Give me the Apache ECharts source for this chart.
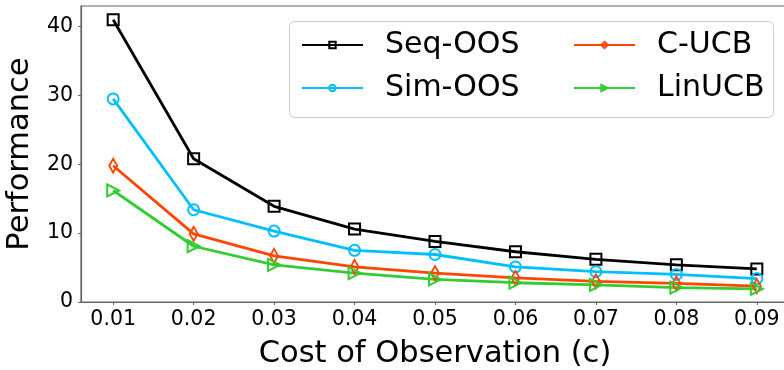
<!DOCTYPE html>
<html><head><meta charset="utf-8">
<script src="https://cdn.jsdelivr.net/npm/echarts@6/dist/echarts.min.js"></script>
<style>html,body{margin:0;padding:0;background:#fff}#c{width:784px;height:370px}</style>
</head><body><div id="c"></div>
<script>
const costs = [0.01, 0.02, 0.03, 0.04, 0.05, 0.06, 0.07, 0.08, 0.09];
const seqOOS = [41.0, 20.8, 13.9, 10.6, 8.8, 7.3, 6.2, 5.4, 4.8];
const simOOS = [29.5, 13.4, 10.3, 7.5, 6.9, 5.1, 4.4, 4.0, 3.4];
const cUCB = [19.8, 9.9, 6.7, 5.1, 4.2, 3.5, 3.0, 2.7, 2.3];
const linUCB = [16.2, 8.1, 5.4, 4.2, 3.3, 2.8, 2.5, 2.1, 1.9];
const yTicks = [0, 10, 20, 30, 40];
const xTicks = costs;

const F = 'DejaVu Sans';
function mk(name, vals, color, symbol, size, rotate) {
  return {
    name: name, type: 'line',
    data: costs.map((c, i) => [c, vals[i]]),
    symbol: symbol, symbolSize: size, symbolRotate: rotate || 0,
    lineStyle: {color: color, width: 2.8},
    itemStyle: {color: 'rgba(255,255,255,0)', borderColor: color, borderWidth: 2},
    z: 2
  };
}
const chart = echarts.init(document.getElementById('c'), null, {renderer: 'canvas'});
chart.setOption({
  animation: false,
  backgroundColor: '#fff',
  grid: {left: 81, right: -5, top: 6, bottom: 68, show: true, borderColor: '#666', borderWidth: 1.2,
         containLabel: false, outerBoundsMode: 'none'},
  xAxis: {
    type: 'value', min: 0.006, max: 0.094,
    name: 'Cost of Observation (c)', nameLocation: 'middle', nameGap: 37,
    nameTextStyle: {fontFamily: F, fontSize: 30.5, color: '#000'},
    axisLine: {lineStyle: {color: '#666', width: 1.2}},
    axisTick: {show: true, length: 3, customValues: xTicks, lineStyle: {color: '#666'}},
    axisLabel: {customValues: xTicks, formatter: v => v.toFixed(2), fontFamily: F, fontSize: 20.5, color: '#000', margin: 7},
    splitLine: {show: false}
  },
  yAxis: {
    type: 'value', min: 0, max: 43,
    name: 'Performance', nameLocation: 'middle', nameGap: 41,
    nameTextStyle: {fontFamily: F, fontSize: 30.5, color: '#000'},
    axisLine: {show: true, lineStyle: {color: '#666', width: 1.2}},
    axisTick: {show: true, length: 3, customValues: yTicks, lineStyle: {color: '#666'}},
    axisLabel: {customValues: yTicks, fontFamily: F, fontSize: 20.5, color: '#000', margin: 8},
    splitLine: {show: false}
  },
  graphic: [{
    type: 'rect', left: 289, top: 21, z: 10,
    shape: {width: 484, height: 96, r: 5},
    style: {fill: 'rgba(255,255,255,0.85)', stroke: '#cccccc', lineWidth: 1}
  }],
  legend: [
    {data: ['Seq-OOS', 'Sim-OOS'], orient: 'vertical', left: 301, top: 30, padding: 0,
     itemWidth: 61, itemHeight: 8, itemGap: 13, z: 20,
     textStyle: {fontFamily: F, fontSize: 30, lineHeight: 30, color: '#000', padding: [0, 0, 0, 17]}},
    {data: ['C-UCB', 'LinUCB'], orient: 'vertical', left: 573, top: 30, padding: 0,
     itemWidth: 61, itemHeight: 8, itemGap: 13, z: 20,
     textStyle: {fontFamily: F, fontSize: 30, lineHeight: 30, color: '#000', padding: [0, 0, 0, 17]}}
  ],
  series: [
    mk('Seq-OOS', seqOOS, '#000000', 'rect', 11),
    mk('Sim-OOS', simOOS, '#00BFFF', 'circle', 11),
    mk('C-UCB', cUCB, '#FF4500', 'diamond', [8, 14]),
    mk('LinUCB', linUCB, '#32CD32', 'triangle', 12, -90)
  ]
});
</script></body></html>
